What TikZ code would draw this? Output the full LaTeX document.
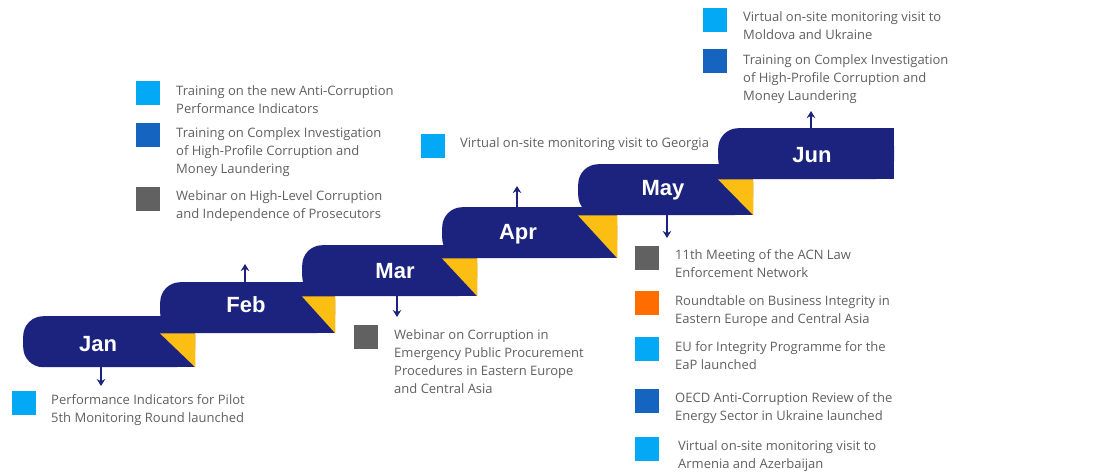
\documentclass[tikz,border=0pt]{standalone}
\usepackage{fontspec}
\setmainfont{Open Sans}
\newfontfamily\monthfont{Liberation Sans}
\usetikzlibrary{arrows.meta}
\definecolor{navy}{HTML}{1B237E}
\definecolor{gold}{HTML}{FDBE13}
\definecolor{lblue}{HTML}{03A9F4}
\definecolor{dblue}{HTML}{1565C0}
\definecolor{dgray}{HTML}{616161}
\definecolor{orng}{HTML}{FF6D00}
\definecolor{txtgray}{HTML}{606060}
\tikzset{
  barbox/.style={fill=navy, rounded corners=20pt, inner sep=0pt, anchor=north west, minimum height=51pt},
  monthlbl/.style={text=white, font=\monthfont\bfseries\fontsize{22}{26}\selectfont, anchor=base, inner sep=0pt},
  sq/.style={minimum size=24pt, inner sep=0pt},
  itm/.style={text=txtgray, font=\fontsize{13}{18}\selectfont, align=left, anchor=north west, inner sep=0pt},
  arr/.style={draw=navy, line width=1.6pt, -{Stealth[length=7pt,width=8.5pt]}}
}
\begin{document}
\begin{tikzpicture}[x=1pt,y=-1pt]
\useasboundingbox[fill=white] (0,0) rectangle (1118,475);
% bars
\node[barbox, minimum width=172pt] (janbar) at (23,316) {};
\fill[navy] (janbar.north) rectangle (janbar.south east);
\node[barbox, minimum width=175pt] (febbar) at (160,282) {};
\fill[navy] (febbar.north) rectangle (febbar.south east);
\fill[gold] (febbar.south west) -- (janbar.east |- febbar.south) -- (janbar.south east) -- cycle;
\node[barbox, minimum width=175pt] (marbar) at (302,245) {};
\fill[navy] (marbar.north) rectangle (marbar.south east);
\fill[gold] (marbar.south west) -- (febbar.east |- marbar.south) -- (febbar.south east) -- cycle;
\node[barbox, minimum width=175pt] (aprbar) at (442,207) {};
\fill[navy] (aprbar.north) rectangle (aprbar.south east);
\fill[gold] (aprbar.south west) -- (marbar.east |- aprbar.south) -- (marbar.south east) -- cycle;
\node[barbox, minimum width=175pt] (maybar) at (578,164) {};
\fill[navy] (maybar.north) rectangle (maybar.south east);
\fill[gold] (maybar.south west) -- (aprbar.east |- maybar.south) -- (aprbar.south east) -- cycle;
\node[barbox, minimum width=176pt] (junbar) at (718,128) {};
\fill[navy] (junbar.north) rectangle (junbar.south east);
\fill[gold] (junbar.south west) -- (maybar.east |- junbar.south) -- (maybar.south east) -- cycle;
% month labels
\node[monthlbl] (jan) at (98,351) {Jan};
\node[monthlbl] (feb) at (246,312) {Feb};
\node[monthlbl] (mar) at (395,278) {Mar};
\node[monthlbl] (apr) at (518,239) {Apr};
\node[monthlbl] (may) at (663,195) {May};
\node[monthlbl] (jun) at (812,162) {Jun};
% arrows
\coordinate (janA) at (101,386);
\coordinate (febA) at (245,264);
\coordinate (marA) at (397,317);
\coordinate (aprA) at (517,186);
\coordinate (mayA) at (667,238);
\coordinate (junA) at (811,111);
\draw[arr] (janA |- janbar.south) -- (janA);
\draw[arr] (febA |- febbar.north) -- (febA);
\draw[arr] (marA |- marbar.south) -- (marA);
\draw[arr] (aprA |- aprbar.north) -- (aprA);
\draw[arr] (mayA |- maybar.south) -- (mayA);
\draw[arr] (junA |- junbar.north) -- (junA);
% Jan
\node[sq, fill=lblue] (s1) at (24,403) {};
\node[itm] (t1) at (51,391.5) {\strut Performance Indicators for Pilot\\5th Monitoring Round launched};
% Feb
\node[sq, fill=lblue] (s2) at (148,92.5) {};
\node[itm] (t2) at (176,82.5) {\strut Training on the new Anti-Corruption\\Performance Indicators};
\node[sq, fill=dblue] (s3) at (148,135) {};
\node[itm] (t3) at (176,124.5) {\strut Training on Complex Investigation\\of High-Profile Corruption and\\Money Laundering};
\node[sq, fill=dgray] (s4) at (148,199) {};
\node[itm] (t4) at (176,187.5) {\strut Webinar on High-Level Corruption\\and Independence of Prosecutors};
% Mar
\node[sq, fill=dgray] (s5) at (366,337) {};
\node[itm] (t5) at (394,326.5) {\strut Webinar on Corruption in\\Emergency Public Procurement\\Procedures in Eastern Europe\\and Central Asia};
% Apr
\node[sq, fill=lblue] (s6) at (433,145.5) {};
\node[itm] (t6) at (460,134.5) {\strut Virtual on-site monitoring visit to Georgia};
% May
\node[sq, fill=dgray] (s7) at (647,257.5) {};
\node[itm] (t7) at (675,246.5) {\strut 11th Meeting of the ACN Law\\Enforcement Network};
\node[sq, fill=orng] (s8) at (647,302.5) {};
\node[itm] (t8) at (675,292.5) {\strut Roundtable on Business Integrity in\\Eastern Europe and Central Asia};
\node[sq, fill=lblue] (s9) at (647,349) {};
\node[itm] (t9) at (675,338.5) {\strut EU for Integrity Programme for the\\EaP launched};
\node[sq, fill=dblue] (s10) at (647,401) {};
\node[itm] (t10) at (675,389.5) {\strut OECD Anti-Corruption Review of the\\Energy Sector in Ukraine launched};
\node[sq, fill=lblue] (s11) at (647,448.5) {};
\node[itm] (t11) at (678,437.5) {\strut Virtual on-site monitoring visit to\\Armenia and Azerbaijan};
% Jun
\node[sq, fill=lblue] (s12) at (715,20) {};
\node[itm] (t12) at (743,8.5) {\strut Virtual on-site monitoring visit to\\Moldova and Ukraine};
\node[sq, fill=dblue] (s13) at (715,61) {};
\node[itm] (t13) at (743,51.5) {\strut Training on Complex Investigation\\of High-Profile Corruption and\\Money Laundering};
\end{tikzpicture}
\end{document}
